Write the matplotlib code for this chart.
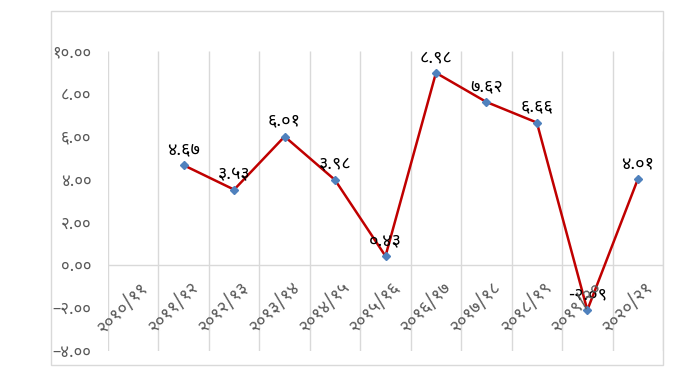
import matplotlib
matplotlib.use("Agg")
import matplotlib.pyplot as plt
import numpy as np
from matplotlib.patches import Rectangle
from matplotlib.ticker import FuncFormatter

plt.rcParams['font.family'] = ['Noto Sans Devanagari', 'Lohit Devanagari', 'Mangal',
                               'FreeSans', 'Noto Sans', 'DejaVu Sans']

years = ['२०१०/११', '२०११/१२', '२०१२/१३', '२०१३/१४', '२०१४/१५', '२०१५/१६',
         '२०१६/१७', '२०१७/१८', '२०१८/१९', '२०१९/२०', '२०२०/२१']
growth = [np.nan, 4.67, 3.53, 6.01, 3.98, 0.43, 8.98, 7.62, 6.66, -2.09, 4.01]
yticks = [-4, -2, 0, 2, 4, 6, 8, 10]

DEV = str.maketrans('0123456789', '०१२३४५६७८९')

def dev(v):
	return f"{v:.2f}".translate(DEV)

fig = plt.figure(figsize=(7, 3.8), dpi=100)
fig.add_artist(Rectangle((51 / 700, 15 / 380), 612 / 700, 354 / 380,
                         transform=fig.transFigure, fill=False,
                         edgecolor='#D9D9D9', lw=1))
ax = fig.add_axes([108 / 700, 29 / 380, 555 / 700, 300 / 380])

x = np.arange(len(years))
ax.vlines(np.arange(-0.5, len(years)), -4, 10, color='#D9D9D9', lw=1, zorder=0)
ax.axhline(0, color='#D9D9D9', lw=1, zorder=0)

ax.plot(x, growth, color='#C00000', lw=1.8, marker='D', markersize=4.5,
        markerfacecolor='#4F81BD', markeredgecolor='#4F81BD', zorder=3)

for xi, v in zip(x, growth):
	if np.isnan(v):
		continue
	ax.annotate(dev(v), (xi, v), xytext=(0, 5), textcoords='offset points',
	            ha='center', va='bottom', fontsize=13, color='black')

for xi, lab in zip(x, years):
	ax.annotate(lab, (xi, 0), xytext=(4, -9), textcoords='offset points',
	            ha='right', va='top', rotation=45, rotation_mode='anchor',
	            fontsize=13, color='#595959')

ax.set_xlim(-0.5, len(years) - 0.5)
ax.set_ylim(-4, 10)
ax.set_xticks([])
ax.set_yticks(yticks)
ax.yaxis.set_major_formatter(FuncFormatter(lambda v, p: dev(v).replace('-', '–')))
ax.tick_params(axis='y', length=0, pad=12, labelsize=12, labelcolor='#595959')
for lab in ax.get_yticklabels():
	lab.set_fontweight('bold')
for s in ax.spines.values():
	s.set_visible(False)

fig.savefig("out.png", dpi=100)
